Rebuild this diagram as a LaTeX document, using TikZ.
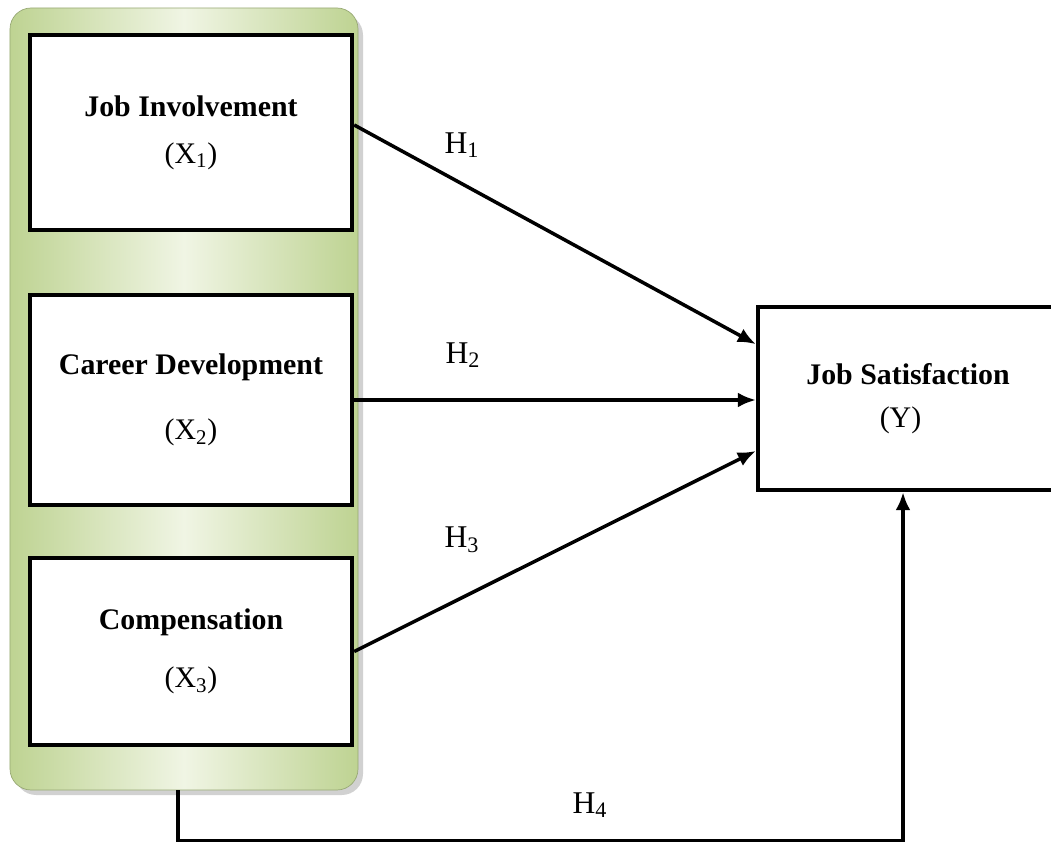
\documentclass[tikz,border=0pt]{standalone}
\usepackage{fontspec}
\setmainfont{Liberation Serif}
\usepackage{xcolor}
\usetikzlibrary{arrows.meta, positioning, calc}

\definecolor{paneledge}{RGB}{190,211,146}
\definecolor{panelmid}{RGB}{240,245,228}

\tikzset{
  varbox/.style={
    draw, line width=2.5pt, fill=white, align=center,
    font=\fontsize{17}{20}\selectfont, minimum width=6.44cm
  },
  hyparrow/.style={
    -{Latex[length=3.6mm, width=3mm]}, line width=2pt
  },
  hyplabel/.style={
    font=\fontsize{18}{20}\selectfont, inner sep=1pt
  },
  panelbox/.style={
    rounded corners=12pt, draw=paneledge!80!black, line width=0.4pt,
    left color=paneledge, right color=paneledge, middle color=panelmid,
    minimum width=6.96cm, minimum height=15.64cm
  },
}

\begin{document}
\begin{tikzpicture}
  \clip (0,0) rectangle (21.02,-16.9);

  % --- Panel behind the independent variables ---
  \fill[black!18, rounded corners=12pt] (0.3,-0.28) rectangle (7.26,-15.9);
  \node[panelbox] (panel) at (3.68,-7.98) {};

  % --- Independent variables ---
  \node[varbox, minimum height=3.9cm] (jobinv) at (3.82,-2.65)
    {\textbf{Job Involvement}\\[0.24cm](X\textsubscript{1})};
  \node[varbox, minimum height=4.2cm] (career) at (3.82,-8.0)
    {\textbf{Career Development}\\[0.6cm](X\textsubscript{2})};
  \node[varbox, minimum height=3.74cm] (comp) at (3.82,-13.03)
    {\textbf{Compensation}\\[0.46cm](X\textsubscript{3})};

  % --- Dependent variable (right side runs off the page) ---
  \node[varbox, minimum width=6.0cm, minimum height=3.66cm] (jobsat) at (18.16,-7.97)
    {\textbf{Job Satisfaction}\\[0.16cm](Y)\hspace*{0.3cm}};

  % --- Hypotheses ---
  \draw[hyparrow] ($(jobinv.east)+(0,0.15)$)
    -- ($(jobsat.north west)!0.21!(jobsat.south west)$);
  \draw[hyparrow] (career.east) -- (career.east -| jobsat.west);
  \draw[hyparrow] (comp.east)
    -- ($(jobsat.north west)!0.78!(jobsat.south west)$);

  \coordinate (h4start) at ($(panel.south west)!0.483!(panel.south east)$);
  \coordinate (h4corner) at ($(h4start)+(0,-1.0)$);
  \coordinate (h4end) at ($(jobsat.south)+(-0.1,0)$);
  \draw[hyparrow] (h4start) -- (h4corner) -- (h4corner -| h4end) -- (h4end);

  % --- Labels ---
  \node[hyplabel] (hone) at (9.24,-2.9) {H\textsubscript{1}};
  \node[hyplabel] (htwo) at (9.26,-7.1) {H\textsubscript{2}};
  \node[hyplabel] (hthree) at (9.24,-10.8) {H\textsubscript{3}};
  \node[hyplabel] (hfour) at (11.8,-16.1) {H\textsubscript{4}};
\end{tikzpicture}
\end{document}
